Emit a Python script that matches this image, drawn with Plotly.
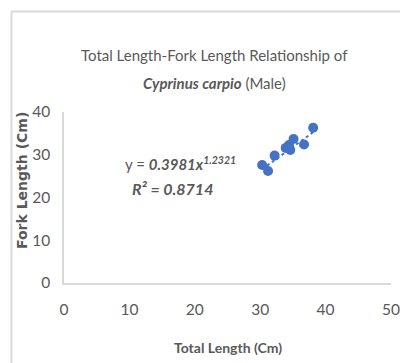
import numpy as np
import plotly.graph_objects as go

# Total length vs fork length measurements (cm), male Cyprinus carpio
total_length = [30.3, 31.2, 32.2, 33.9, 34.4, 34.6, 35.1, 36.7, 38.1]
fork_length = [27.6, 26.2, 29.8, 31.6, 32.3, 31.1, 33.7, 32.4, 36.3]

# Power trendline coefficients
coef_a = 0.3981
coef_b = 1.2321
r_squared = 0.8714

x_ticks = [0, 10, 20, 30, 40, 50]
y_ticks = [0, 10, 20, 30, 40]

W, H = 400, 363
L, R, T, B = 64, 9, 112, 80
PW, PH = W - L - R, H - T - B


def px(x):
    return (x - L) / PW


def py(y):
    return (H - B - y) / PH


GRAY = "#595959"
LINE = "#d9d9d9"
BLUE = "#4472c4"
FONT = "Lato, Roboto, sans-serif"

trend_x = np.linspace(min(total_length), max(total_length), 60)
trend_y = coef_a * trend_x ** coef_b

fig = go.Figure()
fig.add_trace(go.Scatter(
    x=trend_x, y=trend_y, mode="lines",
    line=dict(color=BLUE, width=2, dash="dot"),
    hoverinfo="skip", showlegend=False,
))
fig.add_trace(go.Scatter(
    x=total_length, y=fork_length, mode="markers",
    marker=dict(color=BLUE, size=10, line=dict(width=0)),
    showlegend=False,
))


def note(text, x, y, size, family=FONT, angle=0):
    return dict(text=text, xref="paper", yref="paper", x=px(x), y=py(y),
                xanchor="center", yanchor="middle", textangle=angle,
                showarrow=False, font=dict(size=size, color=GRAY, family=family))


fig.update_layout(
    width=W, height=H,
    margin=dict(l=L, r=R, t=T, b=B, autoexpand=False),
    paper_bgcolor="white", plot_bgcolor="white",
    font=dict(family=FONT, color=GRAY, size=14),
    xaxis=dict(
        range=[0, 50], tickvals=x_ticks, showgrid=False, zeroline=False,
        showline=True, linecolor=LINE, linewidth=1.5, ticks="",
        automargin=False, ticklabelstandoff=12, ticklabeloverflow="allow",
        tickfont=dict(size=15.5, color=GRAY, family=FONT),
    ),
    yaxis=dict(
        range=[0, 40], tickvals=y_ticks, showgrid=False, zeroline=False,
        showline=True, linecolor=LINE, linewidth=1.5, ticks="",
        automargin=False, ticklabelstandoff=9, ticklabeloverflow="allow",
        tickfont=dict(size=15.5, color=GRAY, family=FONT),
    ),
    shapes=[
        dict(type="line", xref="paper", yref="paper",
             x0=px(11.5), y0=py(H + 5), x1=px(11.5), y1=py(11.5),
             line=dict(color=LINE, width=2)),
        dict(type="line", xref="paper", yref="paper",
             x0=px(11.5), y0=py(11.5), x1=px(W + 5), y1=py(11.5),
             line=dict(color=LINE, width=2)),
    ],
    annotations=[
        note("Total Length-Fork Length Relationship of", 214, 55, 15),
        note("<b><i>Cyprinus carpio</i></b> (Male)", 214, 83, 15),
        note("<b>Total Length (Cm)</b>", 228, 347, 14),
        note("<b>Fork Length (Cm)</b>", 22, 181, 14,
             family="DejaVu Sans, sans-serif", angle=-90),
        note(f"y = <b><i>{coef_a:.4f}x<sup>{coef_b:.4f}</sup></i></b>", 180, 163, 15),
        note(f"<b><i>R² = {r_squared:.4f}</i></b>", 172, 188, 16),
    ],
)

fig.write_html("out.html")
